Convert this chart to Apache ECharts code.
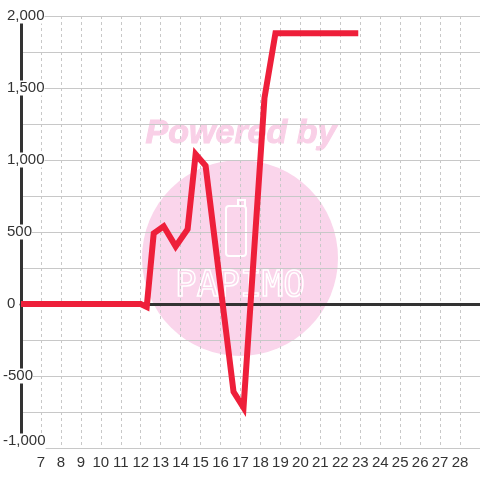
<!DOCTYPE html>
<html>
<head>
<meta charset="utf-8">
<script src="https://cdn.jsdelivr.net/npm/echarts@6/dist/echarts.min.js"></script>
<style>
html,body{margin:0;padding:0;background:#fff;}
#chart{width:480px;height:480px;}
</style>
</head>
<body>
<div id="chart"></div>
<script>
// Data
const xValues = [6, 12, 12.3, 12.65, 13.15, 13.75, 14.35, 14.75, 15.25, 16.65, 17.15, 18.2, 18.75, 22.9];
const yValues = [0, 0, -20, 490, 540, 400, 520, 1040, 960, -610, -720, 1430, 1880, 1880];
const yLabelValues = [-1000, -500, 0, 500, 1000, 1500, 2000];
const xMin = 6, xMax = 29;

const seriesData = xValues.map((x, i) => [x, yValues[i]]);
const FONT = '"Liberation Sans", Arial, sans-serif';

const chart = echarts.init(document.getElementById('chart'), null, {renderer: 'canvas'});
chart.setOption({
  backgroundColor: '#ffffff',
  animation: false,
  grid: {left: 20, right: 0, top: 16, bottom: 32, containLabel: false},
  xAxis: [{
    type: 'value', min: xMin, max: xMax, interval: 1, position: 'bottom',
    axisLine: {show: false, onZero: false}, axisTick: {show: false},
    axisLabel: {
      color: '#333', fontSize: 15, fontFamily: FONT, margin: 7,
      showMinLabel: false, showMaxLabel: false,
      formatter: v => String(v)
    },
    splitLine: {show: true, lineStyle: {color: '#c8c8c8', width: 1, type: [3, 3]}}
  }, {
    type: 'value', min: xMin, max: xMax, position: 'bottom',
    axisLine: {show: true, onZero: true, onZeroAxisIndex: 0, lineStyle: {color: '#333', width: 3}},
    axisTick: {show: false}, axisLabel: {show: false}, splitLine: {show: false}
  }],
  yAxis: {
    type: 'value', min: -1000, max: 2000, interval: 250,
    axisLine: {show: true, onZero: false, lineStyle: {color: '#333', width: 3}},
    axisTick: {show: false},
    splitLine: {show: true, lineStyle: {color: '#c8c8c8', width: 1}},
    axisLabel: {
      align: 'left', margin: 18, color: '#333', fontSize: 15, fontFamily: FONT,
      formatter: v => {
        if (!yLabelValues.includes(v)) return '';
        const s = v.toLocaleString('en-US');
        if (v === -1000) return '{b|' + s + '}';
        return v < 0 ? '{n|' + s + '}' : '{p|' + s + '}';
      },
      rich: {
        p: {padding: [0, 0, 0, 4], backgroundColor: '#fff', color: '#333', fontSize: 15, fontFamily: FONT},
        n: {padding: [0, 0, 0, 0], backgroundColor: '#fff', color: '#333', fontSize: 15, fontFamily: FONT},
        b: {padding: [0, 0, 14, 0], backgroundColor: '#fff', color: '#333', fontSize: 15, fontFamily: FONT}
      }
    }
  },
  graphic: [
    {type: 'circle', z: -10, shape: {cx: 240, cy: 258, r: 98}, style: {fill: '#fad5eb'}, silent: true},
    {type: 'text', z: -10, silent: true,
     style: {text: 'Powered by', x: 241, y: 134, align: 'center', verticalAlign: 'middle',
             font: 'italic 900 34px ' + FONT, fill: '#f9d0e7', stroke: '#f9d0e7', lineWidth: 1}},
    {type: 'rect', z: -9, silent: true, shape: {x: 226, y: 206, width: 20, height: 50, r: 3},
     style: {fill: 'none', stroke: '#fff', lineWidth: 2}},
    {type: 'rect', z: -9, silent: true, shape: {x: 238, y: 200, width: 7, height: 6},
     style: {fill: 'none', stroke: '#fff', lineWidth: 2}},
    {type: 'text', z: -9, silent: true,
     style: {text: 'PAPIMO', x: 240, y: 287, align: 'center', verticalAlign: 'middle',
             font: '36px "DejaVu Sans Mono", monospace', fill: 'none', stroke: '#fff', lineWidth: 1.5}}
  ],
  series: [{
    type: 'line', xAxisIndex: 0, data: seriesData, showSymbol: false, symbol: 'none',
    smooth: false, lineStyle: {color: '#ee1f3a', width: 6, join: 'miter'}, z: 3
  }]
});
</script>
</body>
</html>
